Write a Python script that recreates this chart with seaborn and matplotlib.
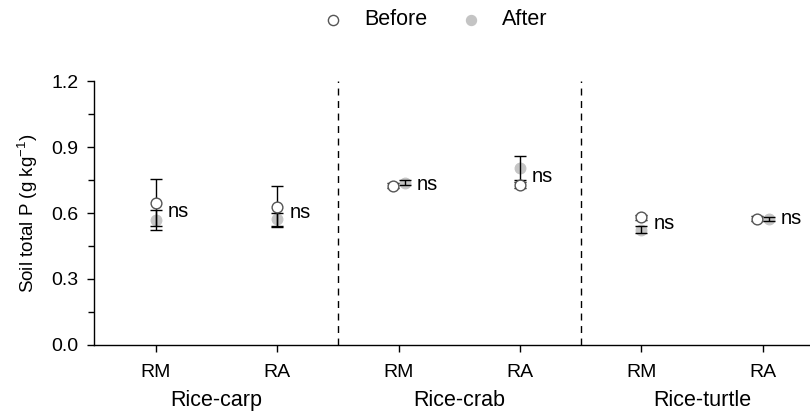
import matplotlib
matplotlib.use("Agg")
import matplotlib.pyplot as plt
import numpy as np
import pandas as pd
import seaborn as sns

systems = ["Rice-carp", "Rice-crab", "Rice-turtle"]
treatments = ["RM", "RA"]

before_mean = [0.648, 0.630, 0.725, 0.729, 0.580, 0.575]
before_se = [0.107, 0.094, 0.012, 0.014, 0.012, 0.010]
after_mean = [0.569, 0.572, 0.738, 0.805, 0.524, 0.572]
after_se = [0.045, 0.030, 0.012, 0.056, 0.015, 0.010]
sig = ["ns", "ns", "ns", "ns", "ns", "ns"]

sns.set_style("ticks")
plt.rcParams["font.family"] = ["Liberation Sans", "DejaVu Sans"]
plt.rcParams["mathtext.default"] = "regular"
plt.rcParams["font.size"] = 14
for key in ["text.color", "axes.labelcolor", "xtick.color", "ytick.color"]:
    plt.rcParams[key] = "black"

n = len(before_mean)
pos = np.arange(n, dtype=float)
# shift markers apart only where the two means overlap
close = np.abs(np.array(before_mean) - np.array(after_mean)) < 0.03
x_before = pos - np.where(close, 0.05, 0)
x_after = pos + np.where(close, 0.05, 0)

df = pd.DataFrame({
    "x": np.concatenate([x_before, x_after]),
    "y": before_mean + after_mean,
    "se": before_se + after_se,
    "Time": ["Before"] * n + ["After"] * n,
})

fig = plt.figure(figsize=(8.1, 4.15), dpi=100)
ax = fig.add_axes([0.116, 0.169, 0.884, 0.635])

sub_a = df[df.Time == "After"]
sub_b = df[df.Time == "Before"]
sns.scatterplot(data=sub_a, x="x", y="y", ax=ax, color="#c4c4c4", s=60,
                edgecolor="#c4c4c4", linewidth=0.8, zorder=2, label="After")
ax.errorbar(df.x, df.y, yerr=df.se, fmt="none", ecolor="black",
            elinewidth=1, capsize=4, capthick=1, zorder=3)
sns.scatterplot(data=sub_b, x="x", y="y", ax=ax, color="white", s=60,
                edgecolor="#555555", linewidth=1, zorder=4, label="Before")

for i in range(n):
    xr = max(x_before[i], x_after[i]) + 0.1
    ax.text(xr, (before_mean[i] + after_mean[i]) / 2, sig[i],
            ha="left", va="center", fontsize=14.5)

for xd in [1.5, 3.5]:
    ax.axvline(xd, color="black", linestyle=(0, (5, 4)), linewidth=1, zorder=1)

ax.set_xlim(-0.51, 5.39)
ax.set_ylim(0, 1.2)
ax.set_yticks(np.arange(0, 1.21, 0.3))
ax.set_yticks(np.arange(0.15, 1.2, 0.3), minor=True)
ax.set_yticklabels([f"{v:.1f}" for v in np.arange(0, 1.21, 0.3)])
ax.set_xticks(pos)
ax.set_xticklabels(treatments * 3)
ax.tick_params(axis="both", which="major", length=5, width=1, labelsize=14, pad=6)
ax.tick_params(axis="y", which="minor", length=4, width=1)
ax.tick_params(axis="x", pad=9)
ax.set_xlabel("")
ax.set_ylabel("Soil total P (g kg$^{-1}$)", fontsize=13.5, labelpad=8)
for s in ["top", "right"]:
    ax.spines[s].set_visible(False)
for s in ["left", "bottom"]:
    ax.spines[s].set_linewidth(1)
    ax.spines[s].set_color("black")

trans = matplotlib.transforms.blended_transform_factory(ax.transData, ax.transAxes)
for k, name in enumerate(systems):
    ax.text(2 * k + 0.5, -0.17, name, transform=trans, ha="center", va="top",
            fontsize=15.5)

h, l = ax.get_legend_handles_labels()
order = [l.index("Before"), l.index("After")]
leg = ax.legend([h[i] for i in order], [l[i] for i in order], loc="center",
                bbox_to_anchor=(0.469, 1.233), ncol=2, frameon=False, fontsize=15.5,
                handletextpad=0.45, columnspacing=1.0, markerscale=0.95)

fig.savefig("out.png", dpi=100)
